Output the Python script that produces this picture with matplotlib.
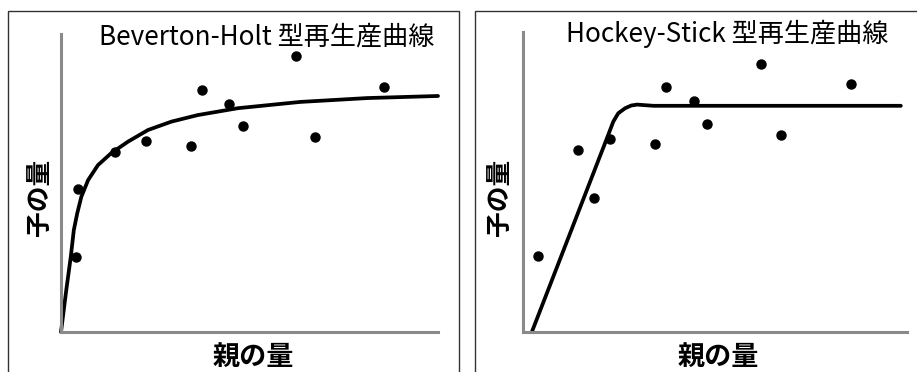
import matplotlib
matplotlib.use("Agg")
import matplotlib.pyplot as plt
from matplotlib.patches import Rectangle

plt.rcParams['font.family'] = ['Noto Sans CJK JP', 'DejaVu Sans']

# Beverton-Holt panel (arbitrary units 0-10)
bh_x = [0.40, 0.45, 1.43, 2.25, 3.45, 3.74, 4.46, 4.83, 6.23, 6.74, 8.57]
bh_y = [2.52, 4.80, 6.04, 6.41, 6.24, 8.12, 7.65, 6.91, 9.26, 6.54, 8.22]
bh_curve_x = [0, 0.14, 0.26, 0.34, 0.43, 0.54, 0.72, 0.98, 1.33, 1.78, 2.31, 2.93,
              3.63, 4.69, 6.34, 8.12, 10.0]
bh_curve_y = [0, 1.41, 2.53, 3.42, 3.98, 4.54, 5.10, 5.60, 6.00, 6.39, 6.78, 7.06,
              7.28, 7.51, 7.72, 7.85, 7.92]

# Hockey-Stick panel
hs_x = [0.39, 1.43, 1.85, 2.27, 3.44, 3.72, 4.45, 4.79, 6.20, 6.72, 8.54]
hs_y = [2.53, 6.07, 4.47, 6.43, 6.27, 8.17, 7.70, 6.93, 8.93, 6.57, 8.27]
hs_curve_x = [0.23, 2.05, 2.22, 2.35, 2.48, 2.66, 2.82, 2.97, 3.18, 3.4, 9.84]
hs_curve_y = [0.0, 6.01, 6.57, 7.01, 7.29, 7.46, 7.55, 7.58, 7.56, 7.54, 7.54]

titles = ['Beverton-Holt 型再生産曲線', 'Hockey-Stick 型再生産曲線']
xlabel = '親の量'
ylabel = '子の量'

W, H = 917, 372
fig = plt.figure(figsize=(W / 100, H / 100), dpi=100)


def fx(px):
    return px / W


def fy(py):
    return (H - py) / H


def panel(rect, xs, ys, cx, cy):
    ax = fig.add_axes(rect)
    ax.plot(cx, cy, color='black', lw=2.7, solid_capstyle='round',
            solid_joinstyle='round', clip_on=False)
    ax.plot(xs, ys, 'o', color='black', ms=6.5, clip_on=False)
    ax.set_xlim(0, 10)
    ax.set_ylim(0, 10)
    for s in ['top', 'right']:
        ax.spines[s].set_visible(False)
    for s in ['left', 'bottom']:
        ax.spines[s].set_color('#8a8a8a')
        ax.spines[s].set_linewidth(2.2)
    ax.set_xticks([])
    ax.set_yticks([])
    ax.patch.set_alpha(0)
    return ax


panel([fx(61), fy(332), 377 / W, 298 / H], bh_x, bh_y, bh_curve_x, bh_curve_y)
panel([fx(523), fy(332), 384 / W, 300 / H], hs_x, hs_y, hs_curve_x, hs_curve_y)

# frames around each panel
fig.patches.append(Rectangle((fx(8), fy(400)), fx(451), (400 - 11) / H, transform=fig.transFigure,
                             fill=False, ec='#333333', lw=1.0))
fig.patches.append(Rectangle((fx(475), fy(400)), fx(460), (400 - 11) / H, transform=fig.transFigure,
                             fill=False, ec='#333333', lw=1.0))

fig.text(fx(267), fy(37), titles[0], ha='center', va='center', fontsize=18.8)
fig.text(fx(727), fy(34), titles[1], ha='center', va='center', fontsize=18.8)

fig.text(fx(253), fy(357), xlabel, ha='center', va='center', fontsize=19.5, fontweight='bold')
fig.text(fx(718), fy(357), xlabel, ha='center', va='center', fontsize=19.5, fontweight='bold')
fig.text(fx(39), fy(197), ylabel, ha='center', va='center', fontsize=18.5, fontweight='bold', rotation=90)
fig.text(fx(499), fy(197), ylabel, ha='center', va='center', fontsize=18.5, fontweight='bold', rotation=90)

fig.savefig('out.png', dpi=100)
